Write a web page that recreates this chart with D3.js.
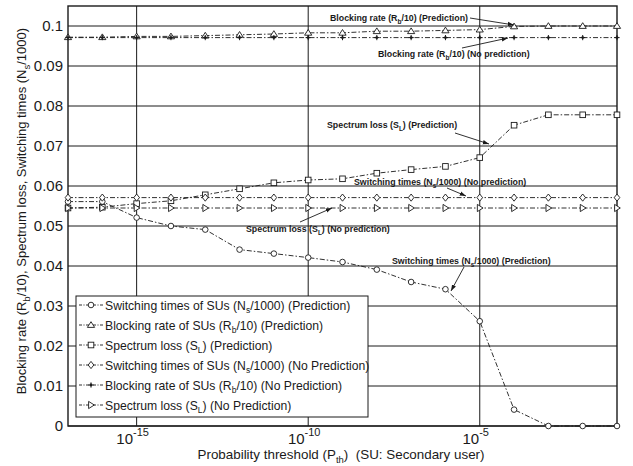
<!DOCTYPE html>
<html>
<head>
<meta charset="utf-8">
<script src="https://cdn.jsdelivr.net/npm/d3@7"></script>
<style>
  body { margin: 0; background: #fff; }
  svg { font-family: "Liberation Sans", Arial, sans-serif; }
</style>
</head>
<body>
<svg id="chart" width="633" height="466"></svg>
<script>
// probability threshold exponents (10^e)
const exponents = [-17, -16, -15, -14, -13, -12, -11, -10, -9, -8, -7, -6, -5, -4, -3, -2, -1];

const switchPred = [0.0561, 0.0561, 0.0521, 0.0500, 0.0491, 0.0441, 0.0431, 0.0421, 0.0410, 0.0391, 0.0360, 0.0342, 0.0262, 0.0041, 0, 0, 0];
const blockPred = [0.0972, 0.0972, 0.0974, 0.0974, 0.0976, 0.0978, 0.0980, 0.0983, 0.0983, 0.0987, 0.0987, 0.0989, 0.0991, 0.0999, 0.1000, 0.1000, 0.1000];
const lossPred = [0.0545, 0.0547, 0.0556, 0.0563, 0.0578, 0.0593, 0.0608, 0.0615, 0.0618, 0.0632, 0.0641, 0.0649, 0.0671, 0.0752, 0.0778, 0.0778, 0.0778];
const switchNoPred = [0.0571, 0.0571, 0.0571, 0.0571, 0.0571, 0.0571, 0.0571, 0.0571, 0.0571, 0.0571, 0.0571, 0.0571, 0.0571, 0.0571, 0.0571, 0.0571, 0.0571];
const blockNoPred = [0.0971, 0.0971, 0.0971, 0.0971, 0.0971, 0.0971, 0.0971, 0.0971, 0.0971, 0.0971, 0.0971, 0.0971, 0.0971, 0.0971, 0.0971, 0.0971, 0.0971];
const lossNoPred = [0.0545, 0.0545, 0.0545, 0.0545, 0.0545, 0.0545, 0.0545, 0.0545, 0.0545, 0.0545, 0.0545, 0.0545, 0.0545, 0.0545, 0.0545, 0.0545, 0.0545];

const yTicks = [0, 0.01, 0.02, 0.03, 0.04, 0.05, 0.06, 0.07, 0.08, 0.09, 0.1];
const xTicks = [-15, -10, -5];

const series = [
    {name: "Switching times of SUs (N", sub: "s", rest: "/1000) (Prediction)", values: switchPred, marker: "circle"},
    {name: "Blocking rate of SUs (R", sub: "b", rest: "/10) (Prediction)", values: blockPred, marker: "triangle"},
    {name: "Spectrum loss (S", sub: "L", rest: ") (Prediction)", values: lossPred, marker: "square"},
    {name: "Switching times of SUs (N", sub: "s", rest: "/1000) (No Prediction)", values: switchNoPred, marker: "diamond"},
    {name: "Blocking rate of SUs (R", sub: "b", rest: "/10) (No Prediction)", values: blockNoPred, marker: "plus"},
    {name: "Spectrum loss (S", sub: "L", rest: ") (No Prediction)", values: lossNoPred, marker: "right"}
];

const svg = d3.select('#chart');
const plotLeft = 68, plotRight = 617, plotTop = 6, plotBottom = 426;

const x = d3.scaleLinear().domain([-17, -1]).range([plotLeft, plotRight]);
const y = d3.scaleLinear().domain([0, 0.105]).range([plotBottom, plotTop]);

const ink = "#1a1a1a";

// grid
svg.append("g").selectAll("line").data(yTicks).join("line")
    .attr("x1", plotLeft).attr("x2", plotRight)
    .attr("y1", d => y(d)).attr("y2", d => y(d))
    .attr("stroke", ink).attr("stroke-width", 1);
svg.append("g").selectAll("line").data(xTicks).join("line")
    .attr("x1", d => x(d)).attr("x2", d => x(d))
    .attr("y1", plotTop).attr("y2", plotBottom)
    .attr("stroke", ink).attr("stroke-width", 1);

// axes
const yAxis = d3.axisLeft(y).tickValues(yTicks).tickSize(0).tickPadding(5)
    .tickFormat(d => d === 0 ? "0" : d3.format(".2~f")(d));
svg.append("g").attr("transform", `translate(${plotLeft},0)`).call(yAxis)
    .call(g => g.select(".domain").remove())
    .selectAll("text").attr("font-size", 15).attr("fill", ink)
    .attr("font-family", "Liberation Sans, Arial, sans-serif");

const xAxis = d3.axisBottom(x).tickValues(xTicks).tickSize(0).tickFormat("");
svg.append("g").attr("transform", `translate(0,${plotBottom})`).call(xAxis)
    .call(g => g.select(".domain").remove());

xTicks.forEach(function(t) {
    const label = svg.append("text")
        .attr("x", x(t) - 4).attr("y", 444)
        .attr("text-anchor", "middle")
        .attr("font-size", 15).attr("fill", ink);
    label.append("tspan").text("10");
    label.append("tspan").attr("dy", -8).attr("font-size", 11).text(String(t));
});

// frame
svg.append("rect")
    .attr("x", plotLeft).attr("y", plotTop)
    .attr("width", plotRight - plotLeft).attr("height", plotBottom - plotTop)
    .attr("fill", "none").attr("stroke", ink).attr("stroke-width", 1.4);

// axis titles
const xLabel = svg.append("text")
    .attr("x", 341).attr("y", 459).attr("text-anchor", "middle")
    .attr("font-size", 13.4).attr("fill", ink);
xLabel.append("tspan").text("Probability threshold (P");
xLabel.append("tspan").attr("dy", 4).attr("font-size", 9.5).text("th");
xLabel.append("tspan").attr("dy", -4).text(")\u00a0 (SU: Secondary user)");

const yLabel = svg.append("text")
    .attr("transform", "translate(26,211) rotate(-90)")
    .attr("text-anchor", "middle")
    .attr("font-size", 13).attr("fill", ink);
yLabel.append("tspan").text("Blocking rate (R");
yLabel.append("tspan").attr("dy", 4).attr("font-size", 9.5).text("b");
yLabel.append("tspan").attr("dy", -4).text("/10), Spectrum loss, Switching times (N");
yLabel.append("tspan").attr("dy", 4).attr("font-size", 9.5).text("s");
yLabel.append("tspan").attr("dy", -4).text("/1000)");

// markers
const drawMarker = function(g, type, cx, cy) {
    const s = 2.8;
    if (type === "circle") {
        g.append("circle").attr("cx", cx).attr("cy", cy).attr("r", s)
            .attr("fill", "#fff").attr("stroke", ink).attr("stroke-width", 0.9);
    } else if (type === "square") {
        g.append("rect").attr("x", cx - s).attr("y", cy - s).attr("width", 2 * s).attr("height", 2 * s)
            .attr("fill", "#fff").attr("stroke", ink).attr("stroke-width", 0.9);
    } else if (type === "triangle") {
        g.append("path").attr("d", `M${cx},${cy - 3.3}L${cx + 3.6},${cy + 2.4}L${cx - 3.6},${cy + 2.4}Z`)
            .attr("fill", "#fff").attr("stroke", ink).attr("stroke-width", 0.9);
    } else if (type === "right") {
        g.append("path").attr("d", `M${cx + 3.3},${cy}L${cx - 2.4},${cy - 3.6}L${cx - 2.4},${cy + 3.6}Z`)
            .attr("fill", "#fff").attr("stroke", ink).attr("stroke-width", 0.9);
    } else if (type === "diamond") {
        g.append("path").attr("d", `M${cx},${cy - 3.6}L${cx + 2.8},${cy}L${cx},${cy + 3.6}L${cx - 2.8},${cy}Z`)
            .attr("fill", "#fff").attr("stroke", ink).attr("stroke-width", 0.9);
    } else if (type === "plus") {
        g.append("path").attr("d", `M${cx - 2.6},${cy}H${cx + 2.6}M${cx},${cy - 2.6}V${cy + 2.6}`)
            .attr("stroke", ink).attr("stroke-width", 1);
        g.append("circle").attr("cx", cx).attr("cy", cy).attr("r", 1.4).attr("fill", ink);
    }
};

const line = d3.line().x((d, i) => x(exponents[i])).y(d => y(d));

series.forEach(function(s) {
    svg.append("path")
        .attr("d", line(s.values))
        .attr("fill", "none").attr("stroke", ink).attr("stroke-width", 0.9)
        .attr("stroke-dasharray", "5,2,1.5,2");
});
series.forEach(function(s) {
    const g = svg.append("g");
    s.values.forEach((v, i) => drawMarker(g, s.marker, x(exponents[i]), y(v)));
});

// annotations
svg.append("defs").append("marker")
    .attr("id", "arrow").attr("viewBox", "0 0 10 10")
    .attr("refX", 10).attr("refY", 5)
    .attr("markerWidth", 7).attr("markerHeight", 7)
    .attr("orient", "auto")
    .append("path").attr("d", "M0,1.5L10,5L0,8.5Z").attr("fill", ink);

const annotations = [
    {pre: "Blocking rate (R", sub: "b", post: "/10) (Prediction)", tx: 330, ty: 21, from: [470, 18], to: [514, 25]},
    {pre: "Blocking rate (R", sub: "b", post: "/10) (No prediction)", tx: 378, ty: 57, from: [462, 48], to: [508, 38]},
    {pre: "Spectrum loss (S", sub: "L", post: ") (Prediction)", tx: 327, ty: 128, from: [455, 133], to: [489, 144]},
    {pre: "Switching times (N", sub: "s", post: "/1000) (No prediction)", tx: 354, ty: 185, from: [447, 188], to: [466, 196]},
    {pre: "Spectrum loss (S", sub: "L", post: ") (No prediction)", tx: 246, ty: 232, from: [300, 222], to: [332, 208]},
    {pre: "Switching times (N", sub: "s", post: "/1000) (Prediction)", tx: 392, ty: 264, from: [464, 267], to: [451, 291]}
];

annotations.forEach(function(a) {
    const t = svg.append("text")
        .attr("x", a.tx).attr("y", a.ty)
        .attr("font-size", 8.8).attr("font-weight", "bold").attr("fill", ink);
    t.append("tspan").text(a.pre);
    t.append("tspan").attr("dy", 3).attr("font-size", 6.5).text(a.sub);
    t.append("tspan").attr("dy", -3).text(a.post);
    svg.append("line")
        .attr("x1", a.from[0]).attr("y1", a.from[1])
        .attr("x2", a.to[0]).attr("y2", a.to[1])
        .attr("stroke", ink).attr("stroke-width", 0.9)
        .attr("marker-end", "url(#arrow)");
});

// legend
const legend = svg.append("g");
legend.append("rect")
    .attr("x", 76).attr("y", 296).attr("width", 292).attr("height", 121)
    .attr("fill", "#fff").attr("stroke", ink).attr("stroke-width", 1);

series.forEach(function(s, i) {
    const ly = 305 + i * 20;
    legend.append("line")
        .attr("x1", 79).attr("x2", 103).attr("y1", ly).attr("y2", ly)
        .attr("stroke", ink).attr("stroke-width", 0.9)
        .attr("stroke-dasharray", "3,1.5,1,1.5");
    drawMarker(legend, s.marker, 91, ly);
    const t = legend.append("text")
        .attr("x", 105).attr("y", ly + 4.5)
        .attr("font-size", 12.2).attr("fill", ink);
    t.append("tspan").text(s.name);
    t.append("tspan").attr("dy", 3).attr("font-size", 8.5).text(s.sub);
    t.append("tspan").attr("dy", -3).text(s.rest);
});
</script>
</body>
</html>
